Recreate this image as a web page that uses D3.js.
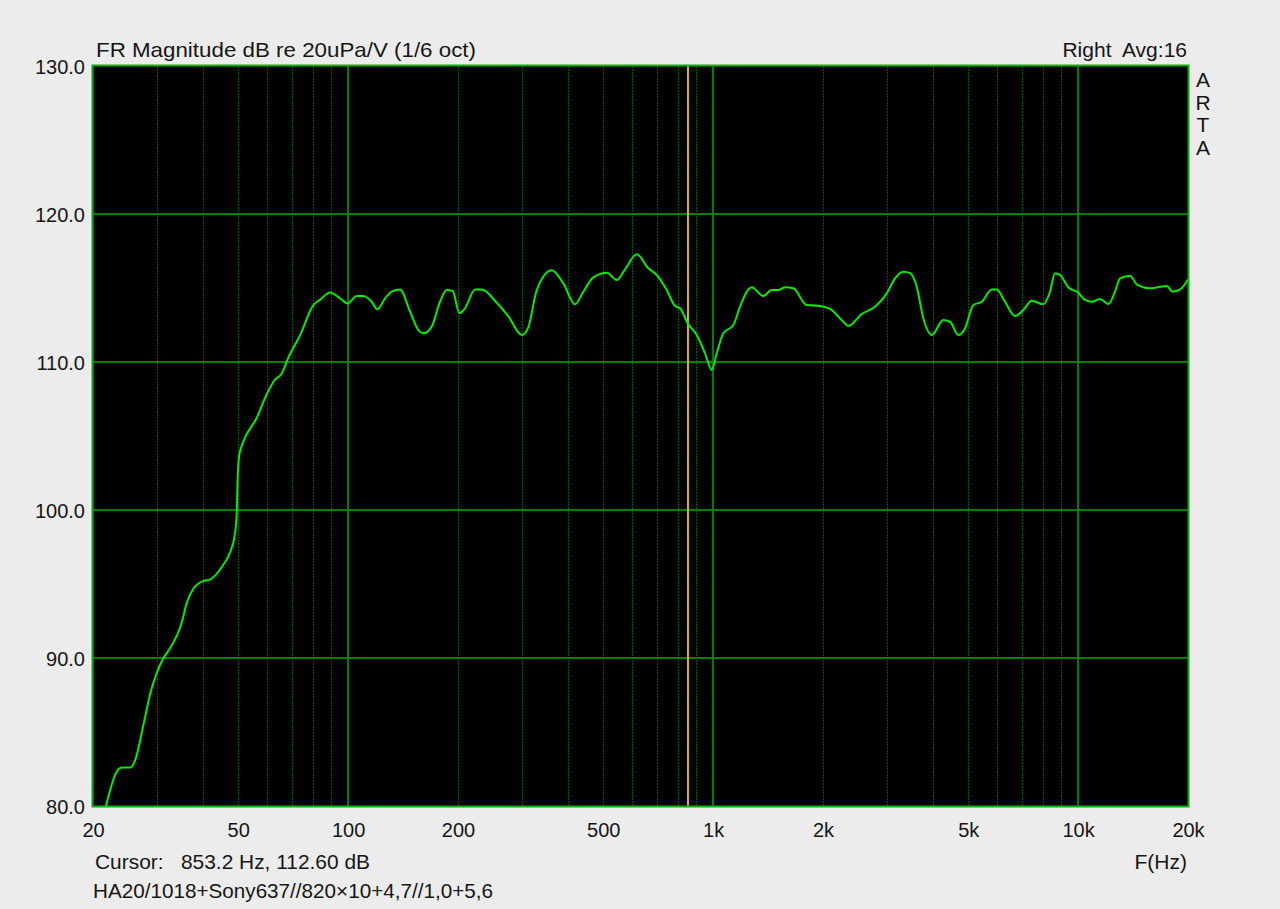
<!DOCTYPE html>
<html>
<head>
<meta charset="utf-8">
<script src="https://cdn.jsdelivr.net/npm/d3@7"></script>
<style>
  html, body { margin: 0; padding: 0; background: #ececec; }
  svg { display: block; }
  text { font-family: "Liberation Sans", Arial, sans-serif; fill: #161616; white-space: pre; }
</style>
</head>
<body>
<svg id="chart" width="1280" height="909"></svg>
<script>
// ---- data ----
const freqHz = [21.7, 23.2, 24.0, 25.3, 26.1, 27.5, 28.7, 29.9, 31.2, 32.2, 35.0, 36.1, 37.7, 40.1, 41.8, 45.5, 47.4, 48.9, 49.5, 49.8, 50.3, 51.6, 56.1, 59.8, 63.0, 65.7, 68.6,
  73.8, 80.3, 83.7, 89.2, 95.0, 99.7, 105.6, 110.1, 116.0, 120.2, 126.2, 131.7, 138.7, 147.8, 155.7, 160.7, 169.4, 178.5, 186.2, 193.4, 201.7, 209.0, 222.7, 232.2, 255.3, 274.6, 299.0, 311.6, 328.7, 361.2, 388.8, 418.4, 441.0, 469.8, 511.1, 544.5, 573.6, 617.5, 664.4, 700.6, 746.2, 786.3, 811.4, 851.8, 901.6, 950.0, 991, 1023, 1066, 1136, 1185, 1248,
  1276, 1372, 1447, 1509, 1574, 1658, 1804, 1963, 2113, 2272, 2346, 2553, 2776, 2990, 3151, 3320, 3463, 3612, 3766, 3972, 4272, 4457, 4696, 4898, 5163, 5444, 5798, 5983, 6303, 6714, 7076, 7461, 8028, 8374, 8643, 8921, 9400, 10012, 10444, 10896, 11482, 12098, 12619, 13024, 13874, 14476, 15738, 16762, 17484, 18160, 19020, 20000];
const magDb = [80.0, 82.3, 82.6, 82.6, 83.1, 85.5, 87.6, 89.0, 90.0, 90.5, 92.4, 93.7, 94.7, 95.2, 95.3, 96.3, 97.1, 98.3, 99.7, 102.1, 103.7, 104.6, 106.2, 107.8, 108.8, 109.2, 110.3,
  111.8, 113.85, 114.2, 114.7, 114.3, 113.96, 114.46, 114.46, 114.07, 113.56, 114.3, 114.75, 114.9, 113.4, 112.16, 111.94, 112.39, 114.07, 114.86, 114.8, 113.29, 113.63, 114.9, 114.9, 114.0, 113.1, 111.82, 112.34, 114.86, 116.2, 115.3, 113.9, 114.75, 115.72, 116.03, 115.54, 116.26, 117.28, 116.33, 115.88, 114.86, 113.78, 113.63, 112.61, 111.82, 110.59, 109.46, 110.59, 111.94, 112.5, 113.74, 114.9,
  115.05, 114.46, 114.86, 114.86, 115.05, 114.98, 113.85, 113.78, 113.51, 112.72, 112.43, 113.24, 113.74, 114.64, 115.65, 116.1, 116.0, 115.09, 112.95, 111.82, 112.84, 112.72, 111.82, 112.27, 113.85, 114.07, 114.9, 114.9, 114.07, 113.1, 113.51, 114.14, 113.9, 114.75, 116.0, 115.88, 115.05, 114.68, 114.19, 114.07, 114.26, 113.92, 114.75, 115.65, 115.83, 115.25, 114.98, 115.09, 115.14, 114.75, 114.9, 115.58];

const xTickValues = [20, 50, 100, 200, 500, 1000, 2000, 5000, 10000, 20000];
const xTickLabels = ["20", "50", "100", "200", "500", "1k", "2k", "5k", "10k", "20k"];
const yTickValues = [80, 90, 100, 110, 120, 130];
const majorFreqs = [100, 1000, 10000];
const minorFreqs = [30, 40, 50, 60, 70, 80, 90, 200, 300, 400, 500, 600, 700, 800, 900,
  2000, 3000, 4000, 5000, 6000, 7000, 8000, 9000];
const cursorFreq = 853.2;

const titleText = "FR Magnitude dB re 20uPa/V (1/6 oct)";
const rightTitle = "Right  Avg:16";
const artaLetters = ["A", "R", "T", "A"];
const cursorText = "Cursor:   853.2 Hz, 112.60 dB";
const noteText = "HA20/1018+Sony637//820\u00d710+4,7//1,0+5,6";
const xAxisName = "F(Hz)";

// ---- layout ----
const L = 93, R = 1188, T = 66, B = 806;
const svg = d3.select("#chart");
const x = d3.scaleLog().domain([20, 20000]).range([L, R]);
const y = d3.scaleLinear().domain([80, 130]).range([B, T]);

svg.append("rect").attr("width", 1280).attr("height", 909).attr("fill", "#ececec");
svg.append("rect").attr("x", L).attr("y", T).attr("width", R - L).attr("height", B - T).attr("fill", "#000");

svg.append("defs").append("clipPath").attr("id", "clip")
  .append("rect").attr("x", L).attr("y", T).attr("width", R - L).attr("height", B - T);

const grid = svg.append("g");
grid.selectAll("line.minor").data(minorFreqs).join("line")
  .attr("x1", d => Math.round(x(d)) + 0.5).attr("x2", d => Math.round(x(d)) + 0.5)
  .attr("y1", T).attr("y2", B)
  .attr("stroke", "#005c00").attr("stroke-width", 1).attr("stroke-dasharray", "2,1");
grid.selectAll("line.major").data(majorFreqs).join("line")
  .attr("x1", d => Math.round(x(d))).attr("x2", d => Math.round(x(d)))
  .attr("y1", T).attr("y2", B)
  .attr("stroke", "#008000").attr("stroke-width", 2);
grid.selectAll("line.h").data(yTickValues.slice(1, -1)).join("line")
  .attr("x1", L).attr("x2", R)
  .attr("y1", d => Math.round(y(d))).attr("y2", d => Math.round(y(d)))
  .attr("stroke", "#008000").attr("stroke-width", 2);

// cursor line
svg.append("line")
  .attr("x1", x(cursorFreq)).attr("x2", x(cursorFreq)).attr("y1", T).attr("y2", B)
  .attr("stroke", "#dcb800").attr("stroke-width", 2);

// frame
svg.append("rect").attr("x", L - 0.5).attr("y", T - 0.5).attr("width", R - L + 1).attr("height", B - T + 1)
  .attr("fill", "none").attr("stroke", "#00b000").attr("stroke-width", 2);

// curve
const pts = freqHz.map((f, i) => [f, magDb[i]]);
const line = d3.line().x(d => x(d[0])).y(d => y(d[1])).curve(d3.curveMonotoneX);
svg.append("path").datum(pts).attr("clip-path", "url(#clip)")
  .attr("d", line).attr("fill", "none").attr("stroke", "#00ee00").attr("stroke-width", 2)
  .attr("stroke-linejoin", "round");

// axes (labels only)
const xAxis = d3.axisBottom(x).tickValues(xTickValues)
  .tickFormat((d, i) => xTickLabels[i]).tickSize(0).tickPadding(0);
const gx = svg.append("g").attr("transform", `translate(0, ${B + 24})`).call(xAxis);
gx.select(".domain").remove();
gx.selectAll("text").attr("font-size", 20).attr("dy", "0.35em")
  .style("font-family", "'Liberation Sans', Arial, sans-serif").attr("fill", "#161616");

const yAxis = d3.axisLeft(y).tickValues(yTickValues).tickFormat(d3.format(".1f")).tickSize(0).tickPadding(0);
const gy = svg.append("g").attr("transform", `translate(${L - 8}, 0)`).call(yAxis);
gy.select(".domain").remove();
gy.selectAll("text").attr("font-size", 20).attr("dy", "0.36em")
  .style("font-family", "'Liberation Sans', Arial, sans-serif").attr("fill", "#161616");

// texts
svg.append("text").attr("x", 96).attr("y", 57).attr("font-size", 21)
  .attr("textLength", 380).attr("lengthAdjust", "spacingAndGlyphs").text(titleText);
svg.append("text").attr("x", 1187).attr("y", 57).attr("font-size", 21).attr("text-anchor", "end")
  .attr("xml:space", "preserve").text(rightTitle);
svg.selectAll("text.arta").data(artaLetters).join("text")
  .attr("x", 1203).attr("y", (d, i) => 87 + i * 22.5).attr("font-size", 21)
  .attr("text-anchor", "middle").text(d => d);
svg.append("text").attr("x", 95).attr("y", 869).attr("font-size", 21).attr("xml:space", "preserve")
  .attr("textLength", 275).attr("lengthAdjust", "spacingAndGlyphs").text(cursorText);
svg.append("text").attr("x", 93).attr("y", 898).attr("font-size", 21)
  .attr("textLength", 400).attr("lengthAdjust", "spacingAndGlyphs").text(noteText);
svg.append("text").attr("x", 1187).attr("y", 869).attr("font-size", 21).attr("text-anchor", "end").text(xAxisName);
</script>
</body>
</html>
